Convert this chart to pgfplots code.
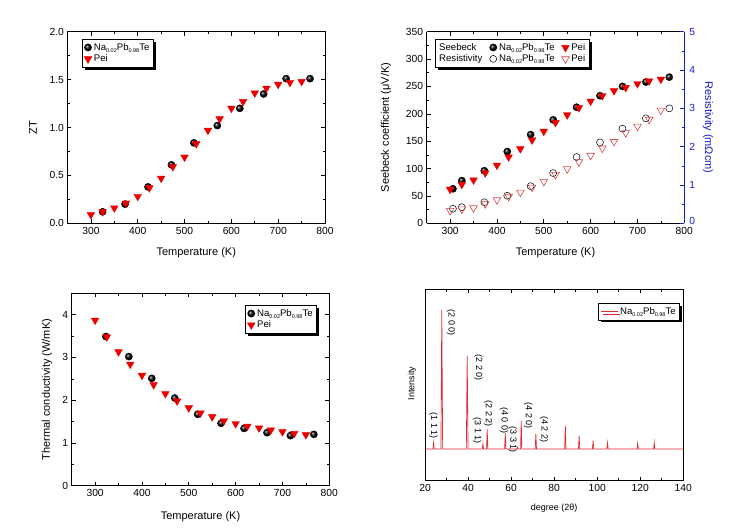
\documentclass[border=0pt]{standalone}
\usepackage{fontspec}
\setmainfont{Liberation Sans}
\usepackage{pgfplots}
\pgfplotsset{compat=1.18}
\usetikzlibrary{shadows}
\definecolor{pei}{RGB}{235,0,0}
\definecolor{peiopen}{RGB}{215,70,70}
\definecolor{resblue}{RGB}{25,25,205}
\definecolor{xrd}{RGB}{228,40,50}
\newcommand\sub[1]{\raisebox{-0.45ex}{\fontsize{5.5}{5.5}\selectfont #1}}
\newcommand\NaPbTe{Na\sub{0.02}Pb\sub{0.98}Te}
\pgfplotsset{
  base/.style={
    scale only axis, anchor=south west,
    tick align=inside,
    major tick length=4pt, minor tick length=2.3pt,
    every tick/.style={black, line width=0.6pt},
    axis line style={line width=0.8pt},
    /pgf/number format/assume math mode=true,
    tick label style={font=\fontsize{10.3}{12}\selectfont},
    label style={font=\fontsize{11}{13}\selectfont},
    legend style={font=\fontsize{9.6}{11}\selectfont, draw=black, line width=0.5pt, fill=white,
      drop shadow={shadow xshift=2.5pt, shadow yshift=-2.5pt, fill=black, opacity=1},
      inner sep=2pt, row sep=-1pt},
    legend cell align=left,
  },
  tempx/.style={xmin=250, xmax=800, xtick={300,400,...,800}, minor x tick num=1,
    xlabel={Temperature (K)}, xlabel style={at={(axis description cs:0.5,#1)}, anchor=center}},
  na/.style={only marks, mark=ball, mark size=3.6pt, mark options={ball color=black}},
  peis/.style={only marks, color=pei, mark=triangle*, mark size=4.4pt, mark options={rotate=180, fill=pei, draw=pei}},
  naopen/.style={only marks, color=black, mark=o, mark size=3.5pt, mark options={line width=0.5pt}},
  peiopen/.style={only marks, color=peiopen, mark=triangle, mark size=4.4pt, mark options={rotate=180, line width=0.6pt}},
}
\begin{document}
\begin{tikzpicture}
\path[use as bounding box] (0,0) rectangle (737pt,530pt);

% ---------- Panel 1: ZT ----------
\begin{axis}[base, at={(67.5pt,306.7pt)}, width=257.5pt, height=191.6pt, tempx=-0.155,
  ymin=0, ymax=2, ytick={0,0.5,...,2}, minor y tick num=1,
  yticklabel style={/pgf/number format/.cd, fixed, fixed zerofill, precision=1},
  ylabel={ZT}, ylabel style={at={(axis description cs:-0.134,0.5)}, anchor=center},
  legend style={at={(0.056,0.962)}, anchor=north west}]
\addplot[na] table {
325 0.12
373 0.20
422 0.38
472 0.61
520 0.84
570 1.02
618 1.20
669 1.35
717 1.51
768 1.51
};
\addlegendentry{\NaPbTe}
\addplot[peis] table {
300 0.09
325 0.12
350 0.16
375 0.21
400 0.28
425 0.37
450 0.47
475 0.59
500 0.69
525 0.83
550 0.97
575 1.09
600 1.20
625 1.27
650 1.36
675 1.41
700 1.45
725 1.47
750 1.48
};
\addlegendentry{Pei}
\end{axis}

% ---------- Panel 2: Seebeck / Resistivity ----------
\begin{axis}[base, at={(426.7pt,306.7pt)}, width=257.6pt, height=191.6pt, tempx=-0.155,
  axis x line*=box, axis y line*=left, xtick pos=both,
  ymin=0, ymax=350, ytick={0,50,...,350}, minor y tick num=1,
  ylabel={Seebeck coefficient (μV/K)}, ylabel style={at={(axis description cs:-0.158,0.5)}, anchor=center},
  legend columns=3,
  legend style={at={(0.032,0.962)}, anchor=north west, /tikz/every even column/.append style={column sep=5pt}}]
\addlegendimage{empty legend}\addlegendentry{Seebeck}
\addplot[na] table {
306 63
325 78
373 96
422 131
472 162
520 189
570 212
620 233
668 250
718 258
768 267
};
\addlegendentry{\NaPbTe}
\addplot[peis] table {
300 62
325 71
350 79
375 92
400 106
425 121
450 136
475 152
500 168
525 184
550 198
575 211
600 223
625 233
650 242
675 248
700 255
725 260
750 263
};
\addlegendentry{Pei}
\addlegendimage{empty legend}\addlegendentry{Resistivity}
\addlegendimage{naopen}\addlegendentry{\NaPbTe}
\addlegendimage{peiopen}\addlegendentry{Pei}
\end{axis}
\begin{axis}[base, at={(426.7pt,306.7pt)}, width=257.6pt, height=191.6pt,
  xmin=250, xmax=800, axis x line=none, axis y line*=right,
  ymin=0, ymax=5, ytick={0,...,5}, minor y tick num=1,
  yticklabels={\raisebox{4.5pt}{0},1,2,3,4,5},
  y axis line style={resblue}, y tick style={resblue}, yticklabel style={resblue, xshift=1.5pt},
  ylabel={Resistivity (mΩcm)}, ylabel style={resblue, at={(axis description cs:1.092,0.5)}, anchor=center, rotate=180}]
\addplot[naopen] table {
306 0.38
325 0.42
373 0.55
422 0.72
472 0.97
520 1.31
570 1.73
620 2.11
668 2.47
718 2.74
768 3.00
};
\addplot[peiopen] table {
300 0.33
325 0.37
350 0.40
375 0.51
400 0.61
425 0.70
450 0.81
475 0.94
500 1.09
525 1.27
550 1.42
575 1.60
600 1.77
625 1.96
650 2.13
675 2.36
700 2.53
725 2.71
750 2.95
};
\end{axis}

% ---------- Panel 3: Thermal conductivity ----------
\begin{axis}[base, at={(71.7pt,44.3pt)}, width=257.6pt, height=192.4pt, tempx=-0.163,
  ymin=0, ymax=4.5, ytick={0,...,4}, minor y tick num=1,
  ylabel={Thermal conductivity (W/mK)}, ylabel style={at={(axis description cs:-0.096,0.5)}, anchor=center},
  legend style={at={(0.952,0.939)}, anchor=north east}]
\addplot[na] table {
323 3.49
372 3.02
421 2.51
470 2.05
519 1.67
569 1.46
618 1.34
667 1.24
717 1.17
767 1.20
};
\addlegendentry{\NaPbTe}
\addplot[peis] table {
300 3.87
325 3.48
350 3.13
375 2.84
400 2.58
425 2.36
450 2.15
475 1.98
500 1.82
525 1.70
550 1.61
575 1.52
600 1.45
625 1.39
650 1.35
675 1.30
700 1.26
725 1.22
750 1.19
};
\addlegendentry{Pei}
\end{axis}

% ---------- Panel 4: XRD ----------
\begin{axis}[base, at={(425pt,49.3pt)}, width=258.3pt, height=191.4pt,
  xmin=20, xmax=140, xtick={20,40,...,140}, minor x tick num=1,
  ymin=0, ymax=100, ytick=\empty,
  label style={font=\fontsize{9}{11}\selectfont},
  xlabel={degree (2θ)}, xlabel style={at={(axis description cs:0.5,-0.143)}, anchor=center},
  ylabel={Intensity}, ylabel style={at={(axis description cs:-0.05,0.509)}, anchor=center},
  legend style={at={(0.987,0.928)}, anchor=north east}]
\addplot[xrd, line width=0.7pt] table {
20 16.6
23.7 16.6
24.0 19.9
24.3 16.6
27.4 16.6
27.8 89.2
28.2 16.6
39.2 16.6
39.6 65.2
40.0 16.6
46.6 16.6
46.9 19.2
47.2 16.6
48.6 16.6
48.9 27.0
49.2 16.6
57.0 16.6
57.3 24.8
57.6 16.6
62.7 16.6
63.0 17.5
63.3 16.6
64.4 16.6
64.7 31.3
65.0 16.6
71.2 16.6
71.5 24.4
71.8 16.6
84.9 16.6
85.2 28.7
85.5 16.6
91.3 16.6
91.6 23.5
91.9 16.6
97.8 16.6
98.1 20.9
98.4 16.6
104.5 16.6
104.8 19.9
105.1 16.6
118.5 16.6
118.8 19.5
119.1 16.6
126.2 16.6
126.5 19.9
126.8 16.6
140 16.6
};
\addlegendentry{\NaPbTe}
\begin{scope}[every node/.style={rotate=-90, font=\fontsize{9}{10}\selectfont, inner sep=0pt}]
\node at (axis cs:23.9,28.6) {(1 1 1)};
\node at (axis cs:32.1,82.4) {(2 0 0)};
\node at (axis cs:44.8,59.1) {(2 2 0)};
\node at (axis cs:44.3,26.2) {(3 1 1)};
\node at (axis cs:49.4,35.0) {(2 2 2)};
\node at (axis cs:56.7,31.7) {(4 0 0)};
\node at (axis cs:60.7,21.3) {(3 3 1)};
\node at (axis cs:68.0,34.0) {(4 2 0)};
\node at (axis cs:75.3,27.0) {(4 2 2)};
\end{scope}
\end{axis}
\end{tikzpicture}
\end{document}
